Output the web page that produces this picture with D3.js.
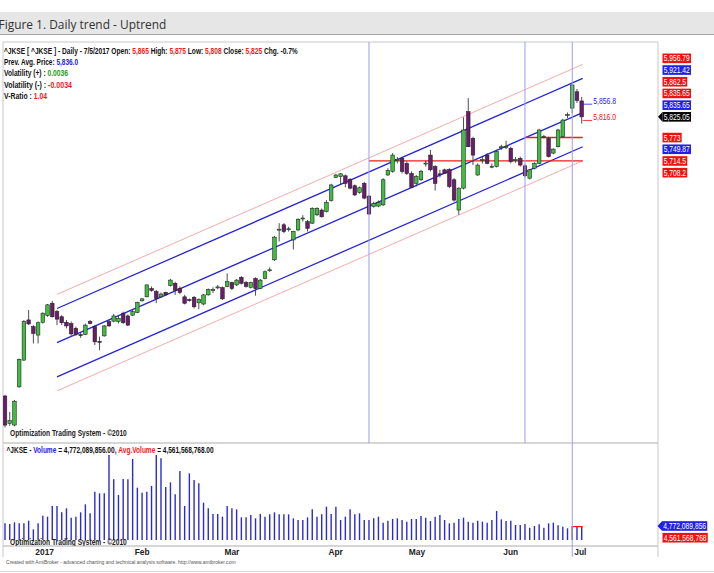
<!DOCTYPE html>
<html>
<head>
<meta charset="utf-8">
<script src="https://cdn.jsdelivr.net/npm/d3@7"></script>
<style>
  body { margin: 0; background: #fff; }
  svg text { font-family: "Liberation Sans Narrow", "Arial Narrow", "Liberation Sans", sans-serif; }
</style>
</head>
<body>
<svg id="chart" width="714" height="573"></svg>
<script>
// ^JKSE daily bars, 22 Dec 2016 - 5 Jul 2017
const dates = [
  "2016-12-22","2016-12-23","2016-12-27","2016-12-28","2016-12-29","2016-12-30",
  "2017-01-03","2017-01-04","2017-01-05","2017-01-06","2017-01-09","2017-01-10","2017-01-11","2017-01-12","2017-01-13",
  "2017-01-16","2017-01-17","2017-01-18","2017-01-19","2017-01-20","2017-01-23","2017-01-24","2017-01-25","2017-01-26",
  "2017-01-27","2017-01-30","2017-01-31",
  "2017-02-01","2017-02-02","2017-02-03","2017-02-06","2017-02-07","2017-02-08","2017-02-09","2017-02-10","2017-02-13",
  "2017-02-14","2017-02-16","2017-02-17","2017-02-20","2017-02-21","2017-02-22","2017-02-23","2017-02-24","2017-02-27","2017-02-28",
  "2017-03-01","2017-03-02","2017-03-03","2017-03-06","2017-03-07","2017-03-08","2017-03-09","2017-03-10","2017-03-13",
  "2017-03-14","2017-03-15","2017-03-16","2017-03-17","2017-03-20","2017-03-21","2017-03-22","2017-03-23","2017-03-24",
  "2017-03-27","2017-03-29","2017-03-30","2017-03-31",
  "2017-04-03","2017-04-04","2017-04-05","2017-04-06","2017-04-07","2017-04-10","2017-04-11","2017-04-12","2017-04-13",
  "2017-04-17","2017-04-18","2017-04-20","2017-04-21","2017-04-25","2017-04-26","2017-04-27","2017-04-28",
  "2017-05-02","2017-05-03","2017-05-04","2017-05-05","2017-05-08","2017-05-09","2017-05-10","2017-05-12","2017-05-15",
  "2017-05-16","2017-05-17","2017-05-18","2017-05-19","2017-05-22","2017-05-23","2017-05-24","2017-05-26","2017-05-29",
  "2017-05-30","2017-05-31",
  "2017-06-02","2017-06-05","2017-06-06","2017-06-07","2017-06-08","2017-06-09","2017-06-12","2017-06-13","2017-06-14",
  "2017-06-15","2017-06-16","2017-06-19","2017-06-20","2017-06-21","2017-06-22",
  "2017-07-03","2017-07-04","2017-07-05"
];

const open = [
  5124,5055,5051,5147,5214,5315,5298,5277,5309,5326,
  5357,5336,5323,5309,5306,5294,5278,5279,5311,5298,
  5261,5275,5311,5312,5311,5332,5325,5327,5334,5363,
  5373,5394,5386,5373,5384,5401,5407,5394,5373,5366,
  5372,5358,5355,5378,5389,5396,5396,5399,5409,5403,
  5422,5409,5397,5419,5394,5419,5440,5466,5542,5554,
  5543,5516,5541,5569,5562,5558,5579,5591,5587,5615,
  5673,5675,5677,5668,5652,5635,5658,5626,5600,5601,
  5604,5679,5688,5716,5721,5708,5683,5658,5667,5708,
  5729,5700,5682,5692,5693,5667,5591,5646,5838,5771,
  5679,5716,5729,5699,5700,5748,5750,5746,5716,5721,
  5702,5671,5696,5708,5775,5771,5734,5750,5775,5829,
  5847,5888,5865
];
const high = [
  5127,5084,5114,5218,5315,5340,5302,5311,5334,5355,
  5363,5340,5327,5315,5311,5298,5283,5306,5315,5302,
  5273,5302,5315,5330,5325,5336,5329,5342,5361,5370,
  5404,5399,5390,5384,5386,5418,5411,5399,5378,5369,
  5375,5369,5380,5394,5397,5403,5399,5432,5411,5418,
  5425,5413,5411,5422,5418,5439,5447,5526,5558,5558,
  5549,5539,5570,5578,5566,5598,5598,5595,5616,5657,
  5682,5683,5680,5671,5655,5650,5662,5629,5612,5615,
  5671,5696,5734,5724,5725,5713,5688,5679,5692,5715,
  5742,5704,5692,5695,5696,5671,5648,5824,5872,5775,
  5708,5725,5734,5708,5742,5755,5765,5750,5724,5725,
  5706,5693,5711,5795,5780,5775,5746,5795,5820,5836,
  5909,5895,5875
];
const low = [
  5045,5049,5048,5145,5213,5302,5256,5256,5306,5323,
  5321,5302,5302,5294,5275,5275,5270,5277,5304,5252,
  5239,5273,5298,5309,5306,5305,5300,5325,5332,5361,
  5372,5386,5357,5372,5375,5399,5378,5380,5354,5361,
  5344,5342,5352,5376,5383,5392,5365,5397,5390,5400,
  5404,5396,5394,5376,5392,5417,5436,5463,5512,5533,
  5537,5492,5538,5562,5537,5556,5576,5572,5585,5612,
  5671,5654,5648,5643,5626,5632,5618,5579,5597,5598,
  5601,5677,5685,5708,5683,5679,5646,5650,5664,5700,
  5688,5640,5673,5682,5646,5612,5579,5643,5749,5704,
  5677,5708,5706,5696,5698,5742,5744,5708,5710,5700,
  5673,5668,5693,5706,5771,5723,5731,5748,5773,5822,
  5834,5860,5808
];
const close = [
  5051,5062,5111,5216,5311,5305,5281,5308,5332,5353,
  5323,5317,5308,5300,5280,5279,5276,5302,5306,5260,
  5260,5300,5300,5325,5319,5308,5302,5336,5359,5368,
  5403,5389,5369,5380,5378,5415,5389,5384,5357,5364,
  5348,5367,5378,5392,5391,5398,5368,5411,5394,5415,
  5407,5399,5409,5394,5415,5436,5441,5523,5543,5537,
  5544,5537,5568,5571,5545,5595,5595,5574,5610,5654,
  5679,5682,5658,5646,5629,5647,5621,5581,5608,5610,
  5667,5690,5729,5718,5688,5683,5648,5675,5688,5709,
  5692,5658,5681,5683,5650,5616,5646,5792,5750,5729,
  5704,5718,5708,5701,5738,5750,5751,5713,5718,5704,
  5677,5692,5708,5792,5776,5725,5744,5792,5817,5831,
  5905,5866,5825
];
// volume, billions of shares
const volume = [
  5.68,5.45,6.02,5.68,5.68,6.59,3.64,5.68,8.29,7.95,
  11.59,11.59,9.43,10.79,7.61,7.95,9.43,12.16,9.09,16.47,
  15.90,15.90,28.97,20.68,15.34,20.79,20.68,27.60,17.84,16.13,
  16.47,18.40,28.97,27.83,18.06,19.65,15.56,23.52,11.59,22.72,
  20.45,19.31,12.72,10.79,8.86,8.86,7.95,11.59,10.79,10.45,
  7.72,7.72,8.52,7.38,8.86,7.95,8.75,9.43,8.75,8.75,
  8.75,7.38,6.82,6.82,7.72,10.45,7.95,8.75,11.36,8.86,
  11.36,6.82,7.95,10.45,8.75,9.09,6.82,6.82,7.38,7.95,
  5.91,6.59,7.16,7.38,6.82,6.25,7.16,7.16,8.18,7.61,
  6.48,7.95,8.52,6.82,5.68,5.91,7.16,7.61,6.25,5.91,
  6.59,6.25,5.91,6.82,9.88,7.04,6.48,6.59,5.11,5.11,
  5.45,4.20,4.77,5.34,4.20,5.68,5.91,5.00,4.54,3.98,
  4.77,4.77,4.772089856
];
const volLast = 4772089856;
const volAvg = 4561568768;

// month ticks on the date axis
const tickDates  = ["2017-01-03","2017-02-01","2017-03-01","2017-04-03","2017-05-02","2017-06-02","2017-07-03"];
const tickLabels = ["2017","Feb","Mar","Apr","May","Jun","Jul"];

// regression channel
const channelDates = ["2017-01-10", "2017-07-05"];
const channelMid = [5258, 5835.65];
const channelInner = 85.77;
const channelOuter = 121.14;

// horizontal levels and marker bars
const levelStart = ["2017-04-17", "2017-06-09"];
const levelValue = [5714.5, 5773];
const markerDates = ["2017-04-17", "2017-06-09", "2017-07-03"];

// right hand value labels
const priceLabels = [5956.79, 5921.42, 5862.5, 5835.65, 5835.65, 5825.05, 5773, 5749.87, 5714.5, 5708.2];
const priceLabelKind = ["r", "b", "r", "r", "b", "k", "r", "b", "r", "r"];
const inlineLabels = [5856.8, 5816.0];
const inlineKind = ["b", "r"];

const prevAvgPrice = 5836.0;
const volPlus = 0.0036, volMinus = -0.0034, vRatio = 1.04;

const RED = "#f01a1a", BLUE = "#2323e6", GREEN = "#1c9c1c";
const kindColor = {r: "#ee1111", b: "#1f1fe8", k: "#000"};

const svg = d3.select("#chart");
const W = 714;

/** squeeze a text horizontally so that it spans `target` px (narrow look) */
function squeeze(t, x0, y0, target) {
  t.attr("x", 0).attr("y", 0);
  const w = t.node().getComputedTextLength();
  t.attr("transform", "translate(" + x0 + "," + y0 + ") scale(" + (target / w) + ",1)");
  return t;
}

/** Title bar */
svg.append("rect").attr("x", 0).attr("y", 12).attr("width", W).attr("height", 22).attr("fill", "#e6e6e6");
svg.append("line").attr("x1", 0).attr("x2", W).attr("y1", 34.5).attr("y2", 34.5).attr("stroke", "#a3a3a3");
squeeze(svg.append("text")
  .style("font-family", "'Open Sans', 'Noto Sans', sans-serif")
  .attr("font-size", 13).attr("fill", "#333")
  .text("Figure 1. Daily trend - Uptrend"), -1.5, 28.5, 168);

/** Panel geometry */
const pLeft = 3, pRight = 658, pTop = 42, pSep = 443, axisY = 546, frameBottom = 557;

/** Scales */
const x = d3.scalePoint().domain(dates).range([5, 581.7]);
const y = d3.scaleLinear().domain([5011, 6013]).range([441, 42]);
const yv = d3.scaleLinear().domain([0, 33.06]).range([540, 443]);

const defs = svg.append("defs");
defs.append("clipPath").attr("id", "clipP")
  .append("rect").attr("x", pLeft).attr("y", pTop).attr("width", pRight - pLeft).attr("height", pSep - pTop);
defs.append("clipPath").attr("id", "clipV")
  .append("rect").attr("x", pLeft).attr("y", pSep).attr("width", pRight - pLeft).attr("height", axisY - pSep);

/** Frame */
const frame = svg.append("g").attr("stroke", "#c8c8c8").attr("fill", "none");
frame.append("line").attr("x1", pLeft).attr("x2", pRight).attr("y1", pTop).attr("y2", pTop);
frame.append("line").attr("x1", pLeft).attr("x2", pRight).attr("y1", pSep).attr("y2", pSep).attr("stroke-width", 1.5);
frame.append("line").attr("x1", pLeft).attr("x2", pRight).attr("y1", axisY).attr("y2", axisY).attr("stroke-width", 1.5);
frame.append("line").attr("x1", pLeft).attr("x2", pLeft).attr("y1", pTop).attr("y2", frameBottom);
frame.append("line").attr("x1", pRight).attr("x2", pRight).attr("y1", pTop).attr("y2", frameBottom);

const price = svg.append("g").attr("clip-path", "url(#clipP)");
const vol = svg.append("g").attr("clip-path", "url(#clipV)");

/** Marker verticals */
markerDates.forEach(function(d, i) {
  svg.append("line")
    .attr("x1", x(d)).attr("x2", x(d))
    .attr("y1", pTop).attr("y2", i === markerDates.length - 1 ? frameBottom : pSep)
    .attr("stroke", "#9d9df0").attr("stroke-width", 1);
});

/** Regression channel */
[-channelOuter, -channelInner, 0, channelInner, channelOuter].forEach(function(off) {
  const outer = Math.abs(off) === channelOuter;
  price.append("path")
    .attr("d", d3.line()([[x(channelDates[0]), y(channelMid[0] + off)], [x(channelDates[1]) + 1, y(channelMid[1] + off)]]))
    .attr("stroke", outer ? "#f3a3a3" : "#2424d8")
    .attr("stroke-width", outer ? 0.9 : 1.3)
    .attr("fill", "none");
});

/** Levels */
levelStart.forEach(function(d, i) {
  price.append("line")
    .attr("x1", x(d)).attr("x2", x(dates[dates.length - 1]) + 1)
    .attr("y1", y(levelValue[i])).attr("y2", y(levelValue[i]))
    .attr("stroke", "#ee1c1c").attr("stroke-width", 1.4);
});

/** Candles */
const bw = 3.6;
const candles = price.selectAll("g.candle").data(dates).enter().append("g");
candles.append("line")
  .attr("x1", d => x(d)).attr("x2", d => x(d))
  .attr("y1", (d, i) => y(high[i])).attr("y2", (d, i) => y(low[i]))
  .attr("stroke", "#3a3a3a").attr("stroke-width", 0.9);
candles.append("rect")
  .attr("x", d => x(d) - bw / 2).attr("width", bw)
  .attr("y", (d, i) => y(Math.max(open[i], close[i])))
  .attr("height", (d, i) => Math.max(1, Math.abs(y(open[i]) - y(close[i]))))
  .attr("fill", (d, i) => close[i] >= open[i] ? "#3fbd3f" : "#6c1c6c")
  .attr("stroke", "#1e1e1e").attr("stroke-width", 0.55);

/** Inline labels near the last bar */
const lastX = x(dates[dates.length - 1]);
inlineLabels.forEach(function(v, i) {
  const c = kindColor[inlineKind[i]];
  svg.append("line").attr("x1", lastX + 1).attr("x2", lastX + 10.5)
    .attr("y1", y(v)).attr("y2", y(v)).attr("stroke", c).attr("stroke-width", 0.8);
  squeeze(svg.append("text").attr("font-size", 8.5).attr("fill", c).text(d3.format(",.1f")(v)),
    lastX + 11.5, y(v) - 0.5, 23);
});

/** Right hand labels, stacked around the close */
const lh = 11.7;
const anchor = priceLabelKind.indexOf("k");
const labelY = priceLabels.map(v => y(v));
for (let i = anchor - 1; i >= 0; i--) labelY[i] = Math.min(labelY[i], labelY[i + 1] - lh);
for (let i = anchor + 1; i < priceLabels.length; i++) labelY[i] = Math.max(labelY[i], labelY[i - 1] + lh);

function valueBox(g, yy, txt, color, arrow, x0) {
  const k = 0.8;
  const t = g.append("text").attr("font-size", 8.4).attr("fill", "#fff").text(txt);
  const w = t.node().getComputedTextLength() * k;
  t.attr("transform", "translate(" + (x0 + 1.2) + "," + (yy + 3) + ") scale(" + k + ",1)");
  g.insert("rect", "text").attr("x", x0).attr("y", yy - 4.8).attr("width", w + 2.4).attr("height", 9.6).attr("fill", color);
  if (arrow) {
    g.insert("path", "text")
      .attr("d", `M${x0 - 4.5},${yy} L${x0},${yy - 4.8} L${x0},${yy + 4.8} Z`).attr("fill", color);
  }
}
const labelsG = svg.append("g");
priceLabels.forEach(function(v, i) {
  const k = priceLabelKind[i];
  valueBox(labelsG.append("g"), labelY[i], d3.format(",")(v), kindColor[k], k === "k", 662.5);
});

/** Header texts */
const fmt = d3.format(",");
const n = dates.length - 1;
const chg = (close[n] / close[n - 1] - 1) * 100;
const d5 = new Date(dates[n]);
const header = [
  [["^JKSE [ ^JKSE ] - Daily - " + (d5.getUTCMonth() + 1) + "/" + d5.getUTCDate() + "/" + d5.getUTCFullYear() + " Open: ", "#111"],
   [fmt(open[n]), RED], [" High: ", "#111"], [fmt(high[n]), RED], [" Low: ", "#111"], [fmt(low[n]), RED],
   [" Close: ", "#111"], [fmt(close[n]), RED], [" Chg. " + chg.toFixed(1) + "%", "#111"]],
  [["Prev. Avg. Price: ", "#111"], [d3.format(",.1f")(prevAvgPrice), BLUE]],
  [["Volatility (+) : ", "#111"], [volPlus.toFixed(4), GREEN]],
  [["Volatility (-) : ", "#111"], [volMinus.toFixed(4), RED]],
  [["V-Ratio : ", "#111"], [vRatio.toFixed(2), RED]]
];
const headerLen = [294, 74, 64, 68, 43];
header.forEach(function(line, li) {
  const t = svg.append("text").attr("font-size", 9.2).attr("font-weight", "bold");
  line.forEach(s => t.append("tspan").attr("fill", s[1]).text(s[0]));
  squeeze(t, 4, 53.8 + li * 11.25, headerLen[li]);
});

squeeze(svg.append("text").attr("font-size", 9).attr("font-weight", "bold").attr("fill", "#222")
  .text("Optimization Trading System - \u00a92010"), 10, 435.5, 117);

/** Volume panel */
vol.selectAll("line.v").data(dates).enter().append("line")
  .attr("x1", d => x(d)).attr("x2", d => x(d))
  .attr("y1", yv(0)).attr("y2", (d, i) => yv(volume[i]))
  .attr("stroke", "#2a2ad4").attr("stroke-width", 1.4);
vol.append("line")
  .attr("x1", x(markerDates[2])).attr("x2", lastX + 1)
  .attr("y1", yv(volAvg / 1e9)).attr("y2", yv(volAvg / 1e9))
  .attr("stroke", "#ee1c1c").attr("stroke-width", 1.2);
squeeze(vol.append("text").attr("font-size", 9).attr("font-weight", "bold").attr("fill", "#222")
  .text("Optimization Trading System - \u00a92010"), 10, 544.5, 117);

const vh = svg.append("text").attr("font-size", 9.2).attr("font-weight", "bold");
vh.append("tspan").attr("fill", "#111").text("^JKSE - ");
vh.append("tspan").attr("fill", BLUE).text("Volume");
vh.append("tspan").attr("fill", "#111").text(" = " + d3.format(",.2f")(volLast) + ", ");
vh.append("tspan").attr("fill", RED).text("Avg.Volume");
vh.append("tspan").attr("fill", "#111").text(" = " + d3.format(",.2f")(volAvg));
squeeze(vh, 6.5, 453, 207);

const vl = svg.append("g");
const vLastY = yv(volLast / 1e9);
valueBox(vl.append("g"), vLastY, d3.format(",")(volLast), kindColor.b, true, 662);
valueBox(vl.append("g"), vLastY + lh, d3.format(",")(volAvg), kindColor.r, false, 662.5);

/** Date axis */
const xAxis = d3.axisBottom(x)
  .tickValues(tickDates)
  .tickFormat((d, i) => tickLabels[i])
  .tickSize(0).tickPadding(3.5);
const ax = svg.append("g").attr("transform", "translate(0," + axisY + ")").call(xAxis);
ax.select(".domain").remove();
ax.selectAll("text")
  .attr("text-anchor", "start").attr("dx", 1.5)
  .attr("font-size", 8.4).attr("font-weight", "bold").attr("fill", "#222")
  .style("font-family", "'Liberation Sans Narrow', 'Arial Narrow', 'Liberation Sans', sans-serif");

/** Footer */
squeeze(svg.append("text").attr("font-size", 5.6).attr("fill", "#555")
  .text("Created with AmiBroker - advanced charting and technical analysis software. http://www.amibroker.com"),
  6, 564, 230);
svg.append("line").attr("x1", 0).attr("x2", W).attr("y1", 571.5).attr("y2", 571.5).attr("stroke", "#d4d4d4");
</script>
</body>
</html>
